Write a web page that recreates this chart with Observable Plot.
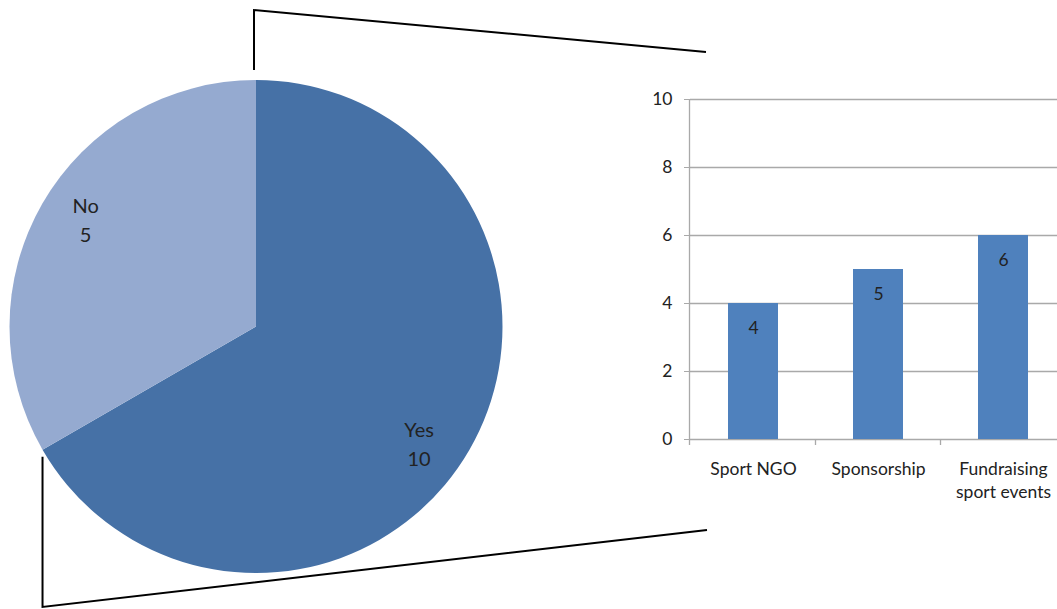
<!DOCTYPE html>
<html>
<head>
<meta charset="utf-8">
<script src="https://cdn.jsdelivr.net/npm/d3@7"></script>
<script src="https://cdn.jsdelivr.net/npm/@observablehq/plot@0.6"></script>
<style>
  html, body { margin: 0; padding: 0; background: #fff; }
  #chart svg { display: block; }
</style>
</head>
<body>
<div id="chart"></div>
<script>
// Pie: has the organisation been involved in sport-related activities?
const pieLabels = ["Yes", "No"];
const pieValues = [10, 5];
const pieColors = ["#4671a6", "#95aad0"];

// Bar breakdown of the activities
const categories = ["Sport NGO", "Sponsorship", "Fundraising\nsport events"];
const barValues = [4, 5, 6];
const yTicks = [0, 2, 4, 6, 8, 10];

const W = 1057, H = 609;
const font = "Lato, 'Open Sans', sans-serif";
const gridColor = "#a9a9a9";
const textColor = "#222";

// pie layout
const pieCx = 256, pieCy = 326.5, pieR = 246.5;
const labelRadius = pieR * 0.815;
const labelTurn = [0.1, 0.035]; // small angular nudge of each slice label (radians)

const bars = categories.map((category, i) => ({category, value: barValues[i]}));
const slices = d3.pie().sort(null).startAngle(0).endAngle(2 * Math.PI)(pieValues);

// Pie, connector lines and axis lines, drawn with the plot's scales
function pieAndFrame(index, scales, values, dimensions) {
  const {x, y} = scales;
  const g = d3.create("svg:g");
  const left = dimensions.marginLeft;
  const y0 = y(0), yTop = y(10);

  // pie slices
  const arc = d3.arc().innerRadius(0).outerRadius(pieR);
  const pg = g.append("g").attr("transform", `translate(${pieCx},${pieCy})`);
  pg.selectAll("path").data(slices).join("path")
    .attr("d", arc)
    .attr("fill", (d, i) => pieColors[i]);
  const labelPos = (d, i) => {
    const a = (d.startAngle + d.endAngle) / 2 + labelTurn[i];
    return [labelRadius * Math.sin(a), -labelRadius * Math.cos(a)];
  };
  const lab = pg.selectAll("text").data(slices).join("text")
    .attr("transform", (d, i) => `translate(${labelPos(d, i)})`)
    .attr("text-anchor", "middle")
    .attr("font-family", font)
    .attr("font-size", 20)
    .attr("fill", textColor);
  lab.append("tspan").attr("x", 0).attr("y", -7).text((d, i) => pieLabels[i]);
  lab.append("tspan").attr("x", 0).attr("y", 22).text(d => String(d.value));

  // connector lines from the "No" slice edges to the bar chart
  const a0 = slices[1].startAngle;
  const bx = pieCx + pieR * Math.sin(a0);
  const by = pieCy - pieR * Math.cos(a0);
  const conn = d3.line();
  g.append("path")
    .attr("d", conn([[pieCx - 2, pieCy - pieR - 10], [pieCx - 2, 10], [left + 16, 52]]))
    .attr("fill", "none").attr("stroke", "#000").attr("stroke-width", 2);
  g.append("path")
    .attr("d", conn([[bx, by + 7], [bx, 607], [left + 17, 530]]))
    .attr("fill", "none").attr("stroke", "#000").attr("stroke-width", 2);

  // value axis line
  g.append("line")
    .attr("x1", left - 0.5).attr("x2", left - 0.5)
    .attr("y1", yTop).attr("y2", y0 + 6)
    .attr("stroke", gridColor).attr("stroke-width", 1.3);

  // category boundary ticks below the baseline
  const bw = typeof x.bandwidth === "function" ? x.bandwidth() : 0;
  const bounds = [];
  for (let i = 0; i < categories.length - 1; i++) {
    bounds.push((x(categories[i]) + bw + x(categories[i + 1])) / 2);
  }
  g.selectAll("line.bt").data(bounds).join("line")
    .attr("class", "bt")
    .attr("x1", d => d).attr("x2", d => d)
    .attr("y1", y0).attr("y2", y0 + 6)
    .attr("stroke", gridColor).attr("stroke-width", 1.3);
  return g.node();
}

const chart = Plot.plot({
  width: W,
  height: H,
  marginLeft: 690,
  marginRight: 0,
  marginTop: 99,
  marginBottom: 170,
  style: {fontFamily: font, background: "#fff", overflow: "visible"},
  x: {domain: categories, range: [690, 1065], paddingInner: 0.6, paddingOuter: 0.3, align: 0.5},
  y: {domain: [0, 10], ticks: yTicks},
  marks: [
    Plot.ruleY(yTicks, {stroke: gridColor, strokeWidth: 1.3}),
    Plot.barY(bars, {x: "category", y: "value", fill: "#4f81bd"}),
    Plot.text(bars, {x: "category", y: "value", text: d => String(d.value), dy: 25, fontSize: 17.5, fill: textColor}),
    Plot.axisY({ticks: yTicks, tickSize: 6, tickPadding: 12, stroke: gridColor, fill: textColor, fontSize: 17.5, label: null}),
    Plot.axisX({tickSize: 0, tickPadding: 18, fill: textColor, fontSize: 17.5, lineHeight: 1.37, label: null}),
    pieAndFrame
  ]
});

document.getElementById("chart").appendChild(chart);
</script>
</body>
</html>
